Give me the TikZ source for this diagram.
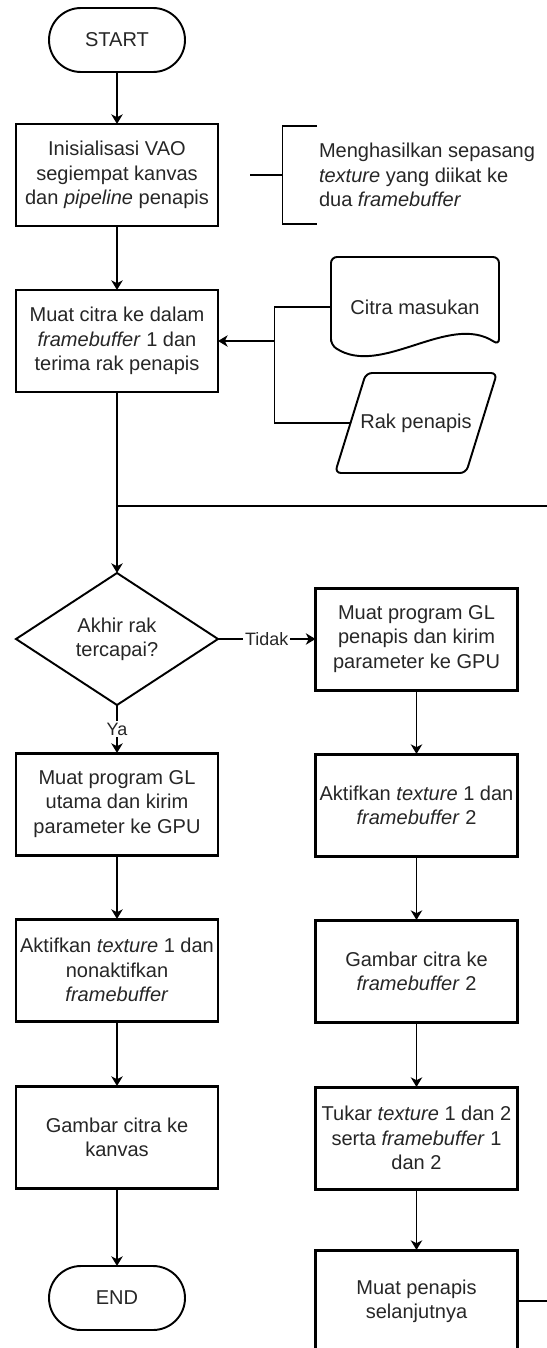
\documentclass[tikz,border=0pt]{standalone}
\usepackage{fontspec}
\setmainfont{Liberation Sans}
\usepackage{xcolor}
\usepackage{tikz}
\usetikzlibrary{shapes,arrows,positioning,calc,arrows.meta}

\begin{document}
\begin{tikzpicture}[node distance=1.28cm, outer sep=0pt,
    every node/.style={text=black!85, font=\fontsize{11.4}{13.8}\selectfont},
    proc/.style={rectangle, draw, line width=1.7pt, minimum width=4.04cm, minimum height=2.04cm, inner xsep=1pt, align=center},
    term/.style={rectangle, draw, line width=1.1pt, rounded corners=0.64cm, minimum width=2.72cm, minimum height=1.28cm},
    decide/.style={diamond, draw, line width=1.1pt, minimum width=4.04cm, minimum height=2.64cm, aspect=1.5, inner sep=0pt, align=center},
    inbox/.style={inner sep=0pt, minimum height=2cm},
    note/.style={inner sep=0pt, align=left},
    lbl/.style={fill=white, inner sep=1pt, font=\fontsize{10.2}{12}\selectfont},
    flow/.style={draw, line width=0.9pt, -{Stealth[length=5.5pt,width=6.5pt,inset=1.6pt]}},
    plain/.style={draw, line width=0.9pt},
    feed/.style={draw, line width=0.7pt},
    shapeline/.style={draw, line width=1.1pt, rounded corners=0.12cm}]
    \useasboundingbox (0,0) rectangle (10.94,-26.96);

    \node [term] (start) at (2.34,-0.80) {START};
    \node [proc, below=1.04cm of start] (init) {Inisialisasi VAO\\segiempat kanvas\\dan \emph{pipeline} penapis};
    \node [proc, below=of init] (load) {Muat citra ke dalam\\\emph{framebuffer} 1 dan\\terima rak penapis};
    \node [decide, below=3.62cm of load] (check) {Akhir rak\\tercapai?};
    \node [proc, below=0.96cm of check] (main) {Muat program GL\\utama dan kirim\\parameter ke GPU};
    \node [proc, below=of main] (unbind) {Aktifkan \emph{texture} 1 dan\\nonaktifkan\\\emph{framebuffer}};
    \node [proc, below=1.3cm of unbind] (canvas) {Gambar citra ke\\kanvas};
    \node [term, below=1.56cm of canvas] (end) {END};

    \node [proc, right=1.95cm of check] (prog) {Muat program GL\\penapis dan kirim\\parameter ke GPU};
    \node [proc, below=of prog] (bind) {Aktifkan \emph{texture} 1 dan\\\emph{framebuffer} 2};
    \node [proc, below=of bind] (render) {Gambar citra ke\\\emph{framebuffer} 2};
    \node [proc, below=1.3cm of render] (swap) {Tukar \emph{texture} 1 dan 2\\serta \emph{framebuffer} 1\\dan 2};
    \node [proc, below=1.22cm of swap] (next) {Muat penapis\\selanjutnya};

    \node [note, right=2.02cm of init] (note) {Menghasilkan sepasang\\\emph{texture} yang diikat ke\\dua \emph{framebuffer}};
    \coordinate (brk) at ([xshift=-0.73cm]note.west);
    \draw [shapeline, rounded corners=0pt] ([shift={(0.69,0.98)}]brk) -- ++(-0.69,0) -- ++(0,-1.96) -- ++(0.69,0);
    \draw [shapeline, rounded corners=0pt] (brk) -- ++(-0.66,0);

    \node [inbox, minimum width=3.36cm] (doc) at (8.30,-6.14) {Citra masukan};
    \draw [shapeline] ([yshift=0.24cm]doc.south west) -- (doc.north west) -- (doc.north east) -- ([yshift=0.24cm]doc.south east)
        .. controls +(-1.0,0.66) and +(1.0,-0.66) .. ([yshift=0.24cm]doc.south west) -- cycle;
    \node [inbox, minimum width=3.24cm] (rack) at (8.32,-8.46) {Rak penapis};
    \draw [shapeline] (rack.south west) -- ([xshift=0.62cm]rack.north west) -- (rack.north east) -- ([xshift=-0.62cm]rack.south east) -- cycle;

    \coordinate (join) at ([xshift=1.13cm]load.east);
    \draw [feed] (doc.west) -| (join);
    \draw [feed] ([xshift=0.31cm]rack.west) -| (join);
    \draw [feed, flow, line width=0.7pt] (join) -- (load.east);

    \draw [flow] (start) -- (init);
    \draw [flow] (init) -- (load);
    \draw [flow] (load) -- (check);
    \coordinate (loopin) at ([yshift=-2.28cm]load.south);
    \coordinate (loopedge) at ([xshift=9cm]loopin);
    \draw [plain] (loopin) -- (loopedge);
    \draw [flow] (check) -- node [lbl] {Ya} (main);
    \draw [flow] (check) -- node [lbl] {Tidak} (prog);
    \draw [flow] (main) -- (unbind);
    \draw [flow] (unbind) -- (canvas);
    \draw [flow] (canvas) -- (end);
    \draw [flow] (prog) -- (bind);
    \draw [flow] (bind) -- (render);
    \draw [flow] (render) -- (swap);
    \draw [flow] (swap) -- (next);
    \coordinate (loopout) at ([xshift=1.5cm]next.east);
    \draw [plain] (next) -- (loopout);
\end{tikzpicture}
\end{document}
